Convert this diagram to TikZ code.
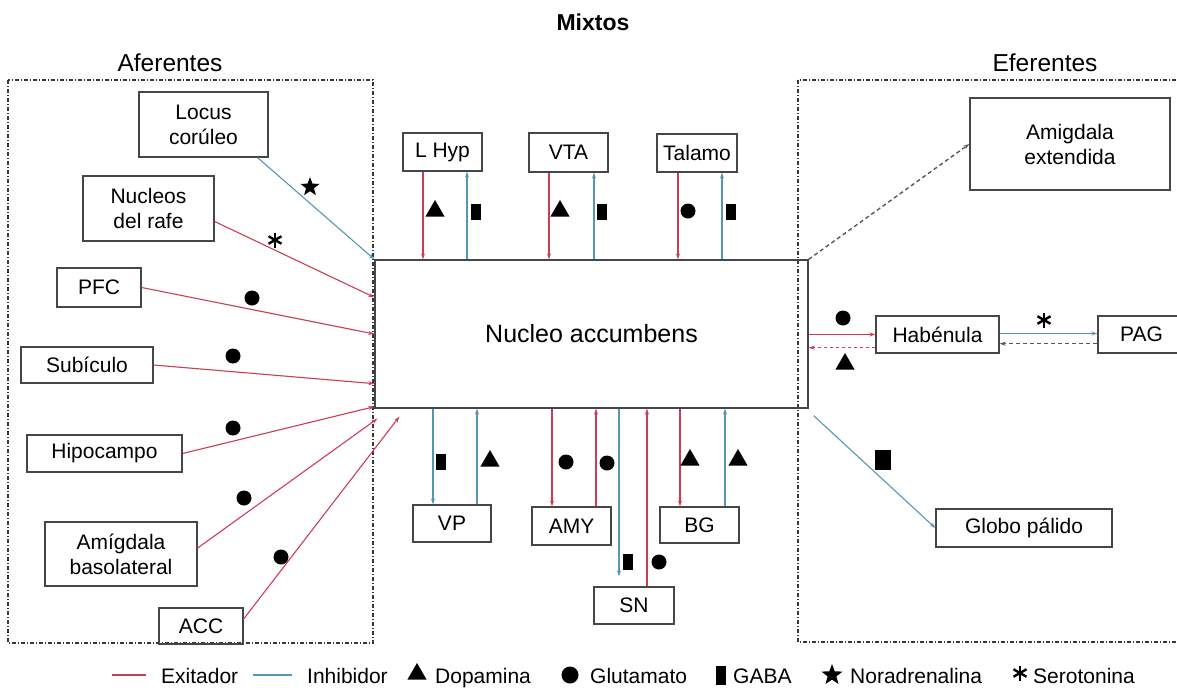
\documentclass[tikz,border=0pt]{standalone}
\usepackage{fontspec}
\setmainfont{Liberation Sans}
\usetikzlibrary{shapes.geometric,arrows.meta}

\definecolor{exred}{RGB}{205,60,85}
\definecolor{inblue}{RGB}{85,150,180}
\definecolor{boxgray}{RGB}{70,70,70}

\tikzset{
  box/.style={draw=boxgray, line width=1.3pt, inner sep=0pt, align=center, font=\fontsize{21}{25}\selectfont},
  link/.style={line width=1.1pt, -{Stealth[length=6pt,width=4pt]}},
  exc/.style={link, draw=exred},
  inh/.style={link, draw=inblue},
  back/.style={link, draw=gray!70!black, line width=1.4pt, dash pattern=on 4pt off 3pt},
  region/.style={draw=boxgray!80!black, line width=1.1pt, dash pattern=on 4pt off 2pt on 1pt off 2pt},
  dopa/.style={regular polygon, regular polygon sides=3, fill=black, inner sep=0pt, minimum size=22pt},
  glu/.style={circle, fill=black, inner sep=0pt, minimum size=15pt},
  gaba/.style={rectangle, fill=black, inner sep=0pt, minimum width=10pt, minimum height=16pt},
  nora/.style={star, star points=5, star point ratio=2.4, fill=black, inner sep=0pt, minimum size=20pt},
  sero/.pic={\foreach \a in {90,30,150} \draw[line width=2.4pt] (\a:7.5pt) -- (\a+180:7.5pt);},
  legtext/.style={anchor=base west, inner sep=0pt, font=\fontsize{21}{25}\selectfont}
}

\begin{document}
\begin{tikzpicture}[x=1pt, y=-1pt]
\useasboundingbox (0,0) rectangle (1177,691);

% titulos
\node[font=\fontsize{23}{27}\selectfont\bfseries] (mixtos) at (593,22) {Mixtos};
\node[font=\fontsize{24.5}{28}\selectfont] (afer) at (170,63) {Aferentes};
\node[font=\fontsize{24.5}{28}\selectfont] (efer) at (1045,63) {Eferentes};

% regiones
\draw[region] (8,80) rectangle (373,643);
\draw[region] (798,80) rectangle (1190,642);

% nucleo central
\node[box, font=\fontsize{25}{30}\selectfont, minimum width=433pt, minimum height=148pt] (nac) at (591.5,334) {Nucleo accumbens};

% aferentes
\node[box, minimum width=129pt, minimum height=65pt] (locus) at (203.5,124.5) {Locus\\corúleo};
\node[box, minimum width=131pt, minimum height=65pt] (rafe) at (148.5,208.5) {Nucleos\\del rafe};
\node[box, minimum width=84pt, minimum height=39pt] (pfc) at (99,287.5) {PFC};
\node[box, minimum width=132pt, minimum height=36pt] (subic) at (87,365) {Subículo};
\node[box, minimum width=155pt, minimum height=37pt] (hipo) at (104.5,453.5) {Hipocampo};
\node[box, minimum width=152pt, minimum height=64pt] (amigbl) at (121,554) {Amígdala\\basolateral};
\node[box, minimum width=84pt, minimum height=36pt] (acc) at (201,626) {ACC};

\draw[inh] ([xshift=-11pt]locus.south east) -- (nac.north west);
\draw[exc] ([yshift=-13pt]rafe.east) -- ([yshift=-38pt]nac.north west);
\draw[exc] (pfc.east) -- (nac.west);
\draw[exc] (subic.east) -- ([yshift=25pt]nac.south west);
\draw[exc] (hipo.east) -- ([yshift=2pt]nac.south west);
\draw[exc] ([yshift=6pt]amigbl.east) -- ([shift={(3pt,-10pt)}]nac.south west);
\draw[exc] ([yshift=7pt]acc.east) -- ([shift={(25pt,-8pt)}]nac.south west);

\node[nora] (lc-nt) at (310,187) {};
\pic (rf-nt) at (275,240) {sero};
\node[glu] (pfc-nt) at (252,298) {};
\node[glu] (sub-nt) at (233,356) {};
\node[glu] (hip-nt) at (233,428) {};
\node[glu] (abl-nt) at (244,498) {};
\node[glu] (acc-nt) at (281,557) {};

% mixtos arriba
\node[box, minimum width=79pt, minimum height=38pt] (lhyp) at (442.5,152) {L Hyp};
\node[box, minimum width=79pt, minimum height=39pt] (vta) at (568.5,152.5) {VTA};
\node[box, minimum width=80pt, minimum height=38pt] (talamo) at (697,153) {Talamo};

\draw[exc] ([xshift=-19.5pt]lhyp.south) -- ([xshift=-19.5pt]lhyp.south |- nac.north);
\draw[inh] ([xshift=24.5pt]lhyp.south |- nac.north) -- ([xshift=24.5pt]lhyp.south);
\draw[exc] ([xshift=-19.5pt]vta.south) -- ([xshift=-19.5pt]vta.south |- nac.north);
\draw[inh] ([xshift=25.5pt]vta.south |- nac.north) -- ([xshift=25.5pt]vta.south);
\draw[exc] ([xshift=-19pt]talamo.south) -- ([xshift=-19pt]talamo.south |- nac.north);
\draw[inh] ([xshift=25pt]talamo.south |- nac.north) -- ([xshift=25pt]talamo.south);

\node[dopa] (lh-nt1) at (435,211) {};
\node[gaba] (lh-nt2) at (476,212) {};
\node[dopa] (vta-nt1) at (560,211) {};
\node[gaba] (vta-nt2) at (602,212) {};
\node[glu] (tal-nt1) at (688,211) {};
\node[gaba] (tal-nt2) at (731,212) {};

% mixtos abajo
\node[box, minimum width=78pt, minimum height=37pt] (vp) at (452,523.5) {VP};
\node[box, minimum width=79pt, minimum height=38pt] (amy) at (571.5,526) {AMY};
\node[box, minimum width=79pt, minimum height=36pt] (bg) at (699.5,525) {BG};
\node[box, minimum width=80pt, minimum height=37pt] (sn) at (634,605.5) {SN};

\draw[inh] ([xshift=-19pt]vp.north |- nac.south) -- ([xshift=-19pt]vp.north);
\draw[inh] ([xshift=25pt]vp.north) -- ([xshift=25pt]vp.north |- nac.south);
\draw[exc] ([xshift=-19.5pt]amy.north |- nac.south) -- ([xshift=-19.5pt]amy.north);
\draw[exc] ([xshift=24.5pt]amy.north) -- ([xshift=24.5pt]amy.north |- nac.south);
\draw[inh] ([xshift=-15pt]sn.north |- nac.south) -- ([shift={(-15pt,10pt)}]sn.north);
\draw[exc] ([xshift=13pt]sn.north) -- ([xshift=13pt]sn.north |- nac.south);
\draw[exc] ([xshift=-19.5pt]bg.north |- nac.south) -- ([xshift=-19.5pt]bg.north);
\draw[inh] ([xshift=25.5pt]bg.north) -- ([xshift=25.5pt]bg.north |- nac.south);

\node[gaba] (vp-nt1) at (441,462) {};
\node[dopa] (vp-nt2) at (490,461) {};
\node[glu] (amy-nt1) at (566,462) {};
\node[glu] (amy-nt2) at (607,463) {};
\node[gaba] (sn-nt1) at (628,562) {};
\node[glu] (sn-nt2) at (659,562) {};
\node[dopa] (bg-nt1) at (690,460) {};
\node[dopa] (bg-nt2) at (738,460) {};

% eferentes
\node[box, minimum width=200pt, minimum height=92pt] (amext) at (1070,144) {Amigdala\\extendida};
\node[box, minimum width=123pt, minimum height=37pt] (hab) at (937.5,334.5) {Habénula};
\node[box, minimum width=87pt, minimum height=37pt] (pag) at (1141.5,334.5) {PAG};
\node[box, minimum width=176pt, minimum height=38pt] (globo) at (1024,528) {Globo pálido};

\draw[back] (nac.north east) -- (amext.west);
\draw[exc] (nac.east |- hab.west) -- (hab.west);
\draw[exc, dashed] ([yshift=6pt]hab.south west) -- ([yshift=6pt]hab.south west -| nac.east);
\draw[inh] ([yshift=1pt]hab.east) -- ([yshift=1pt]pag.west);
\draw[back] ([yshift=10pt]pag.south west) -- ([yshift=10pt]pag.south west -| hab.east);
\draw[inh] ([shift={(5pt,-7pt)}]nac.south east) -- (globo.west);

\node[glu] (hab-nt1) at (843,318) {};
\node[dopa] (hab-nt2) at (845,364) {};
\pic (pag-nt) at (1044,320) {sero};
\node[gaba, minimum width=16pt, minimum height=20pt] (gp-nt) at (883,460) {};

% leyenda
\draw[exred, line width=1.5pt] (112,675) -- (146,675);
\node[legtext] (l-exc) at (161,683) {Exitador};
\draw[inblue, line width=1.5pt] (253,675) -- (292,675);
\node[legtext] (l-inh) at (307,683) {Inhibidor};
\node[dopa, minimum size=22pt] (l-dopa-s) at (417,674) {};
\node[legtext] (l-dopa) at (435,683) {Dopamina};
\node[glu, minimum size=17pt] (l-glu-s) at (570,675) {};
\node[legtext] (l-glu) at (590,683) {Glutamato};
\node[gaba, minimum height=19pt] (l-gaba-s) at (721,675) {};
\node[legtext] (l-gaba) at (733,683) {GABA};
\node[nora, minimum size=22pt] (l-nora-s) at (832,675) {};
\node[legtext] (l-nora) at (850,683) {Noradrenalina};
\pic (l-sero-s) at (1020,673) {sero};
\node[legtext] (l-sero) at (1033,683) {Serotonina};
\end{tikzpicture}
\end{document}
